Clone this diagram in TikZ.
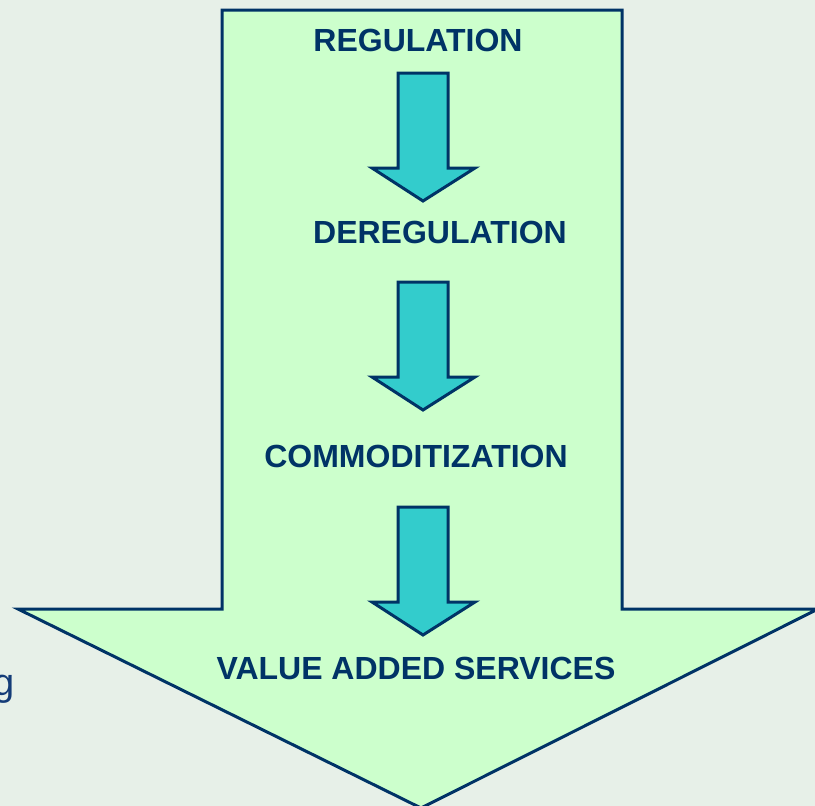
\documentclass[tikz,border=0pt]{standalone}
\usepackage{fontspec}
\setmainfont{Liberation Sans}
\definecolor{pagebg}{RGB}{231,240,232}
\definecolor{pale}{RGB}{204,255,204}
\definecolor{teal}{RGB}{51,204,204}
\definecolor{navy}{RGB}{0,51,102}
\definecolor{inkblue}{RGB}{20,60,120}
\begin{document}
\begin{tikzpicture}[x=1pt,y=-1pt,
  outline/.style={draw=navy,line width=3pt,line join=miter},
  stage/.style={font=\fontsize{32}{37}\selectfont\bfseries,text=navy,inner sep=0pt},
  flowarrow/.style={outline,fill=teal}]
  % page
  \fill[pagebg] (0,0) rectangle (815,806);
  \clip (0,0) rectangle (815,806);
  % large down arrow
  \draw[outline,fill=pale] (222,10) -- (622,10) -- (622,609) -- (818,609)
     -- (421,808) -- (18,609) -- (222,609) -- cycle;
  % stage labels
  \node[stage] (reg) at (418,40) {REGULATION};
  \node[stage] (dereg) at (440,232) {DEREGULATION};
  \node[stage] (comm) at (416,456) {COMMODITIZATION};
  \node[stage] (vas) at (416,668) {VALUE ADDED SERVICES};
  % small arrows between stages
  \foreach \t in {73,282,507}{
    \draw[flowarrow] (398,\t) -- (448,\t) -- (448,\t+95) -- (475,\t+95)
      -- (423,\t+128) -- (372,\t+95) -- (398,\t+95) -- cycle;
  }
  % text running in from the left edge
  \node[font=\fontsize{38}{44}\selectfont,text=inkblue,anchor=base east,inner sep=0pt] (edge) at (15,695) {g};
\end{tikzpicture}
\end{document}
